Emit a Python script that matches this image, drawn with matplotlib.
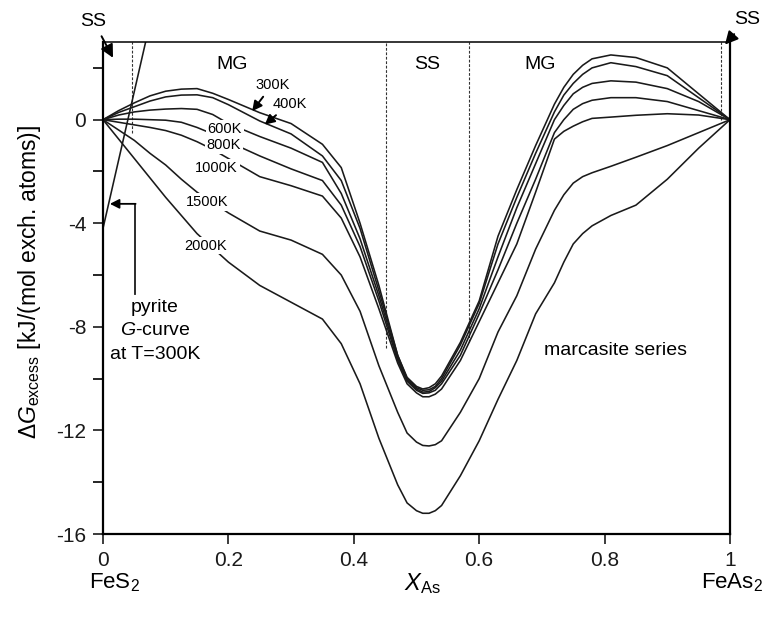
import matplotlib
matplotlib.use("Agg")
import matplotlib.pyplot as plt
from matplotlib.ticker import MultipleLocator

plt.rcParams['font.family'] = ['Liberation Sans', 'DejaVu Sans']
plt.rcParams['mathtext.fontset'] = 'custom'
plt.rcParams['mathtext.rm'] = 'Liberation Sans'
plt.rcParams['mathtext.it'] = 'Liberation Sans:italic'
plt.rcParams['axes.unicode_minus'] = False

# composition grid (X_As) shared by all marcasite curves
x_comp = [0, 0.025, 0.05, 0.075, 0.1, 0.125, 0.15, 0.175, 0.2, 0.25, 0.3, 0.35, 0.38, 0.41,
          0.44, 0.47, 0.485, 0.5, 0.51, 0.52, 0.53, 0.54, 0.57, 0.6, 0.63, 0.66, 0.69, 0.72,
          0.735, 0.75, 0.765, 0.78, 0.81, 0.85, 0.9, 0.95, 1.0]

# excess Gibbs energy, kJ/(mol exch. atoms)
g_300 = [0, 0.35, 0.65, 0.92, 1.1, 1.18, 1.2, 1.02, 0.78, 0.27, -0.15, -0.95, -1.85, -4.0,
         -6.4, -9.1, -9.95, -10.3, -10.4, -10.35, -10.2, -9.9, -8.6, -7.0, -4.5, -2.7, -1.0, 0.6,
         1.25, 1.75, 2.1, 2.35, 2.5, 2.4, 2.0, 1.0, 0]
g_400 = [0, 0.28, 0.5, 0.72, 0.88, 0.95, 0.96, 0.85, 0.58, -0.05, -0.55, -1.4, -2.35, -4.2,
         -6.6, -9.1, -10.0, -10.35, -10.45, -10.43, -10.3, -10.0, -8.7, -7.1, -4.8, -3.0, -1.3, 0.3,
         0.95, 1.4, 1.75, 2.0, 2.2, 2.05, 1.7, 0.85, 0]
g_600 = [0, 0.18, 0.3, 0.37, 0.41, 0.43, 0.4, 0.2, -0.15, -0.65, -1.1, -1.65, -2.85, -4.6,
         -6.8, -9.2, -10.05, -10.4, -10.52, -10.5, -10.35, -10.1, -8.9, -7.3, -5.3, -3.4, -1.7, 0.0,
         0.55, 1.0, 1.25, 1.4, 1.5, 1.45, 1.2, 0.7, 0]
g_800 = [0, 0.02, 0.02, 0.0, -0.02, -0.1, -0.3, -0.55, -0.85, -1.4, -1.9, -2.35, -3.3, -4.9,
         -7.0, -9.3, -10.1, -10.45, -10.57, -10.55, -10.45, -10.2, -9.1, -7.5, -5.8, -4.0, -2.3, -0.5,
         0.0, 0.4, 0.62, 0.75, 0.85, 0.85, 0.7, 0.35, 0]
g_1000 = [0, -0.1, -0.2, -0.3, -0.42, -0.6, -0.85, -1.15, -1.5, -2.2, -2.55, -2.95, -3.8, -5.3,
          -7.3, -9.4, -10.2, -10.55, -10.7, -10.7, -10.6, -10.4, -9.3, -7.8, -6.3, -4.8, -2.8, -0.75,
          -0.45, -0.25, -0.08, 0.05, 0.1, 0.17, 0.23, 0.18, 0]
g_1500 = [0, -0.4, -0.8, -1.3, -1.75, -2.3, -2.8, -3.2, -3.6, -4.3, -4.65, -5.2, -6.0, -7.4,
          -9.5, -11.3, -12.1, -12.45, -12.58, -12.6, -12.55, -12.4, -11.3, -10.0, -8.2, -6.8, -5.0, -3.5,
          -2.9, -2.45, -2.2, -2.05, -1.8, -1.45, -1.0, -0.5, 0]
g_2000 = [0, -0.75, -1.5, -2.25, -3.0, -3.7, -4.4, -4.95, -5.5, -6.4, -7.05, -7.7, -8.65, -10.2,
          -12.3, -14.1, -14.8, -15.1, -15.2, -15.2, -15.1, -14.9, -13.75, -12.4, -10.8, -9.3, -7.5, -6.3,
          -5.5, -4.8, -4.4, -4.1, -3.7, -3.3, -2.3, -1.1, 0]

curves = [g_300, g_400, g_600, g_800, g_1000, g_1500, g_2000]

# temperature labels placed on the curves (those with arrows listed separately)
inline_labels = ['600K', '800K', '1000K', '1500K', '2000K']
inline_x = [0.194, 0.193, 0.181, 0.166, 0.164]
inline_y = [-0.35, -0.97, -1.85, -3.17, -4.86]

arrow_labels = ['300K', '400K']
arrow_text_x = [0.27, 0.298]
arrow_text_y = [1.35, 0.62]
arrow_tip_x = [0.238, 0.258]
arrow_tip_y = [0.33, -0.19]

# field boundaries (dashed) and where they stop
bound_x = [0.046, 0.451, 0.583, 0.986]
bound_bottom = [-0.5, -8.8, -8.6, 0.0]

# pyrite G-curve at 300 K
pyrite_x = [0, 0.068]
pyrite_y = [-4.2, 3.0]

x_ticks = [0, 0.2, 0.4, 0.6, 0.8, 1]
x_ticklabels = ['0', '0.2', '0.4', '0.6', '0.8', '1']
y_ticks = [0, -4, -8, -12, -16]
y_ticklabels = ['0', '-4', '-8', '-12', '-16']

fig = plt.figure(figsize=(7.68, 6.25), dpi=100)
ax = fig.add_axes([0.1341, 0.1456, 0.8164, 0.7872])

ink = '#1a1a1a'
for ys in curves:
    ax.plot(x_comp, ys, color=ink, lw=1.15, zorder=2)

for bx, bb in zip(bound_x, bound_bottom):
    ax.plot([bx, bx], [bb, 3], color='#333333', lw=0.8, ls=(0, (2.5, 1.5)), zorder=1)

ax.plot(pyrite_x, pyrite_y, color=ink, lw=1.15, zorder=2)

for lab, lx, ly in zip(inline_labels, inline_x, inline_y):
    ax.text(lx, ly, lab, fontsize=10.5, ha='center', va='center', zorder=4,
            bbox=dict(boxstyle='square,pad=0.12', fc='white', ec='none'))

for lab, tx, ty, px, py in zip(arrow_labels, arrow_text_x, arrow_text_y, arrow_tip_x, arrow_tip_y):
    ax.annotate(lab, xy=(px, py), xytext=(tx, ty), fontsize=10.5, ha='center', va='center',
                arrowprops=dict(arrowstyle='-|>,head_length=0.55,head_width=0.28', color='black',
                                lw=1.4, shrinkA=2, shrinkB=0), zorder=4)

# region names
ax.text(0.206, 2.12, 'MG', fontsize=14, ha='center', va='center')
ax.text(0.517, 2.14, 'SS', fontsize=14, ha='center', va='center')
ax.text(0.697, 2.14, 'MG', fontsize=14, ha='center', va='center')
ax.text(0.817, -8.9, 'marcasite series', fontsize=14, ha='center', va='center')

# SS arrows at both ends
ax.annotate('SS', xy=(0.016, 2.39), xytext=(-0.015, 3.8), fontsize=14, ha='center', va='center',
            annotation_clip=False,
            arrowprops=dict(arrowstyle='-|>,head_length=0.55,head_width=0.28', color='black',
                            lw=1.4, shrinkA=3, shrinkB=0))
ax.annotate('SS', xy=(0.992, 2.9), xytext=(1.027, 3.86), fontsize=14, ha='center', va='center',
            annotation_clip=False,
            arrowprops=dict(arrowstyle='-|>,head_length=0.55,head_width=0.28', color='black',
                            lw=1.4, shrinkA=3, shrinkB=0))

# pyrite pointer
ax.plot([0.051, 0.051], [-6.75, -3.25], color=ink, lw=1.3)
ax.annotate('', xy=(0.011, -3.25), xytext=(0.052, -3.25),
            arrowprops=dict(arrowstyle='-|>,head_length=0.55,head_width=0.28', color='black',
                            lw=1.3, shrinkA=0, shrinkB=0))
ax.text(0.083, -7.25, 'pyrite', fontsize=14, ha='center', va='center')
ax.text(0.083, -8.15, r'$\mathit{G}$-curve', fontsize=14, ha='center', va='center')
ax.text(0.083, -9.05, 'at T=300K', fontsize=14, ha='center', va='center')

ax.set_xlim(0, 1)
ax.set_ylim(-16, 3)
ax.set_xticks(x_ticks)
ax.set_xticklabels(x_ticklabels)
ax.set_yticks(y_ticks)
ax.set_yticklabels(y_ticklabels)
ax.yaxis.set_minor_locator(MultipleLocator(2))
ax.tick_params(axis='both', which='major', direction='out', length=7, width=1.2,
               labelsize=15, pad=5, colors=ink)
ax.tick_params(axis='y', which='minor', direction='out', length=7, width=1.2)
for side in ['left', 'right', 'bottom']:
    ax.spines[side].set_linewidth(1.6)
ax.spines['top'].set_linewidth(1.1)

xt = ax.get_xaxis_transform()
ax.text(0.018, -0.1, r'FeS$_2$', transform=xt, fontsize=16, ha='center', va='center')
ax.text(0.509, -0.1, r'$X_{\mathrm{As}}$', transform=xt, fontsize=17, ha='center', va='center')
ax.text(1.004, -0.1, r'FeAs$_2$', transform=xt, fontsize=16, ha='center', va='center')

fig.text(30 / 768, 1 - 282 / 625, r'$\mathit{\Delta G}_{\mathrm{excess}}$ [kJ/(mol exch. atoms)]',
         rotation=90, fontsize=16.5, ha='center', va='center')

fig.savefig('out.png', dpi=100)
